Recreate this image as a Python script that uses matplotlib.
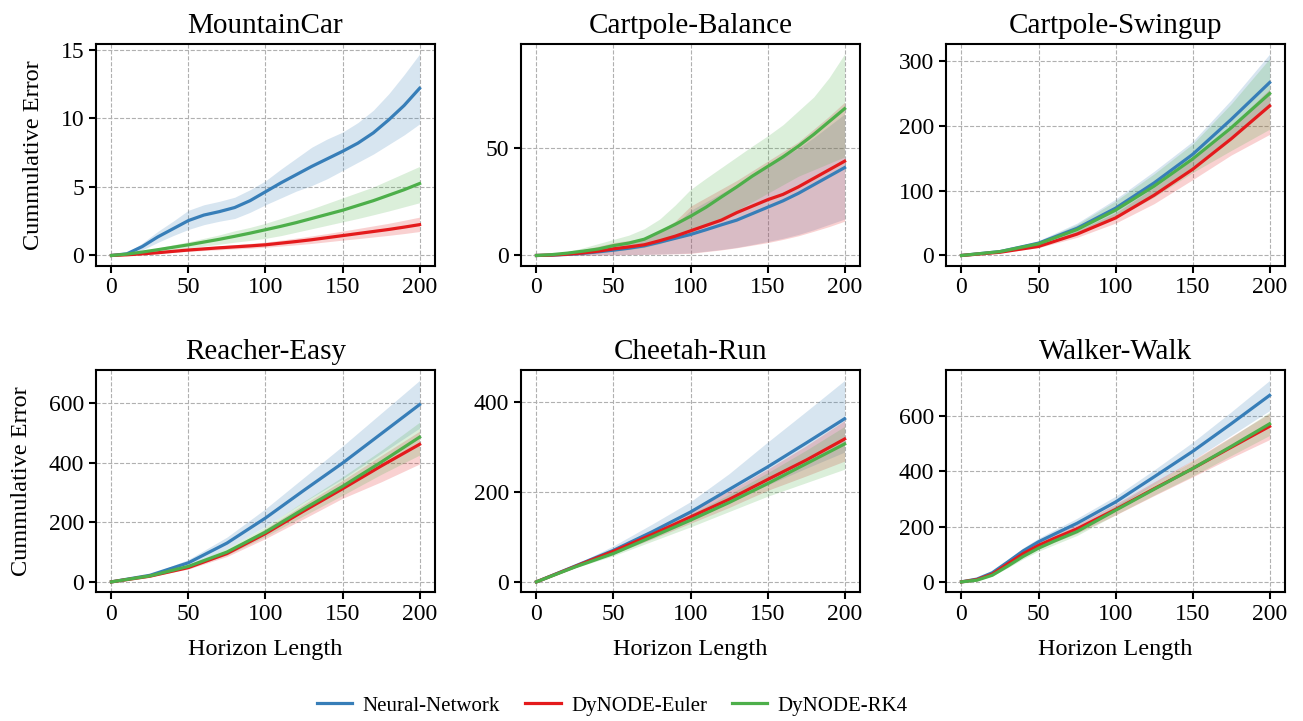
import numpy as np
import matplotlib
matplotlib.use('Agg')
import matplotlib.pyplot as plt
from matplotlib.ticker import MultipleLocator

plt.rcParams['font.family'] = ['Liberation Serif', 'DejaVu Serif']
plt.rcParams['axes.linewidth'] = 1.5
plt.rcParams['xtick.major.width'] = 1.5
plt.rcParams['ytick.major.width'] = 1.5
plt.rcParams['xtick.major.size'] = 5
plt.rcParams['ytick.major.size'] = 5

C_NN = '#377eb8'
C_EU = '#e41a1c'
C_RK = '#4daf4a'

methods = ['Neural-Network', 'DyNODE-Euler', 'DyNODE-RK4']

# ---- MountainCar
mc_x = [0, 10, 20, 30, 40, 50, 60, 70, 80, 90, 100, 110, 120, 130, 140, 150, 160, 170, 180, 190, 200]
mc_nn = [0, 0.12, 0.65, 1.35, 1.95, 2.55, 2.95, 3.2, 3.5, 4.0, 4.65, 5.3, 5.9, 6.5, 7.05, 7.6, 8.2, 8.95, 9.9, 10.95, 12.2]
mc_nn_lo = [0, 0.05, 0.4, 0.95, 1.45, 1.9, 2.25, 2.5, 2.7, 3.15, 3.7, 4.2, 4.7, 5.1, 5.6, 6.2, 6.8, 7.4, 8.1, 8.8, 9.6]
mc_nn_hi = [0, 0.2, 0.9, 1.75, 2.5, 3.3, 3.7, 3.95, 4.25, 4.8, 5.45, 6.3, 7.1, 7.9, 8.5, 9.0, 9.7, 10.6, 11.8, 13.2, 14.7]
mc_eu = [0, 0.05, 0.12, 0.2, 0.3, 0.4, 0.48, 0.56, 0.63, 0.7, 0.78, 0.9, 1.02, 1.15, 1.3, 1.45, 1.6, 1.75, 1.9, 2.07, 2.25]
mc_eu_lo = [0, 0.04, 0.09, 0.15, 0.23, 0.3, 0.36, 0.42, 0.48, 0.53, 0.6, 0.69, 0.78, 0.88, 1.0, 1.12, 1.23, 1.35, 1.47, 1.6, 1.75]
mc_eu_hi = [0, 0.06, 0.15, 0.25, 0.37, 0.5, 0.6, 0.7, 0.79, 0.88, 0.98, 1.12, 1.27, 1.43, 1.6, 1.78, 1.97, 2.16, 2.35, 2.57, 2.8]
mc_rk = [0, 0.1, 0.25, 0.42, 0.6, 0.78, 0.98, 1.18, 1.4, 1.63, 1.88, 2.13, 2.4, 2.7, 3.0, 3.3, 3.65, 4.0, 4.4, 4.8, 5.25]
mc_rk_lo = [0, 0.08, 0.18, 0.3, 0.42, 0.55, 0.68, 0.82, 0.97, 1.1, 1.25, 1.45, 1.7, 1.95, 2.2, 2.45, 2.7, 2.97, 3.25, 3.55, 3.85]
mc_rk_hi = [0, 0.12, 0.32, 0.55, 0.78, 1.0, 1.25, 1.5, 1.8, 2.05, 2.35, 2.7, 3.05, 3.4, 3.8, 4.2, 4.6, 5.0, 5.5, 6.0, 6.5]

# ---- Cartpole-Balance
cb_x = [0, 10, 20, 30, 40, 50, 60, 70, 80, 90, 100, 110, 120, 130, 140, 150, 160, 170, 180, 190, 200]
cb_nn = [0, 0.15, 0.5, 1.0, 1.7, 2.5, 3.4, 4.5, 6.2, 8.0, 9.8, 12.0, 14.3, 16.5, 19.5, 22.5, 25.5, 29.0, 33.0, 37.0, 41]
cb_nn_lo = [0, 0.0, 0.05, 0.1, 0.2, 0.3, 0.4, 0.5, 0.7, 0.9, 1.2, 2.0, 2.8, 3.8, 5.1, 6.5, 8.0, 9.8, 12, 14.5, 17]
cb_nn_hi = [0, 0.4, 1.3, 2.5, 4.0, 5.5, 6.5, 7.5, 10.5, 14.5, 21, 25, 29, 33, 37.5, 42, 46, 50, 55, 60.5, 66]
cb_eu = [0, 0.2, 0.6, 1.2, 2.0, 3.1, 4.0, 5.0, 6.9, 9.0, 11.5, 14.0, 16.5, 20.0, 23.0, 26.0, 28.5, 32.0, 36.0, 40.0, 44.0]
cb_eu_lo = [0, 0.0, 0.05, 0.1, 0.2, 0.3, 0.4, 0.5, 0.6, 0.8, 1.0, 1.8, 2.6, 3.6, 4.8, 6.0, 7.5, 9.2, 11.3, 13.5, 16]
cb_eu_hi = [0, 0.5, 1.5, 2.8, 4.3, 6.0, 7.0, 8.0, 11.5, 16, 23, 27, 31, 35, 39.5, 44, 48.5, 53, 59, 65, 71.5]
cb_rk = [0, 0.4, 1.1, 2.0, 3.0, 4.6, 5.8, 7.6, 11, 14.5, 18.3, 22.5, 27.3, 32.0, 37.0, 41.5, 46.0, 51.0, 56.5, 62.5, 68.5]
cb_rk_lo = [0, 0.2, 0.5, 0.9, 1.5, 2.0, 2.8, 3.8, 5.5, 8, 10.5, 14, 17.5, 21, 25, 29, 33, 37, 40, 43, 46]
cb_rk_hi = [0, 0.6, 1.8, 3.5, 5.5, 7.5, 9.5, 12.5, 17, 23.5, 30.8, 36, 41, 46, 51, 55.8, 61, 67.5, 74, 83, 94]

# ---- Cartpole-Swingup
cs_x = [0, 25, 50, 75, 100, 125, 150, 175, 200]
cs_nn = [0, 6, 19, 42, 73, 112, 156, 210, 267]
cs_nn_lo = [0, 5, 16, 35, 62, 96, 137, 184, 232]
cs_nn_hi = [0, 7, 23, 50, 87, 130, 176, 240, 311]
cs_eu = [0, 5, 14, 33, 58, 93, 133, 180, 231]
cs_eu_lo = [0, 4, 12, 28, 50, 80, 117, 155, 187]
cs_eu_hi = [0, 6, 16, 38, 66, 105, 148, 200, 257]
cs_rk = [0, 6, 18, 40, 70, 107, 149, 197, 250]
cs_rk_lo = [0, 5, 15, 33, 58, 90, 128, 162, 195]
cs_rk_hi = [0, 7, 22, 48, 84, 126, 172, 234, 304]

# ---- Reacher-Easy
re_x = [0, 25, 50, 75, 100, 125, 150, 175, 200]
re_nn = [0, 22, 64, 130, 214, 307, 398, 496, 594]
re_nn_lo = [0, 19, 55, 112, 186, 268, 345, 430, 515]
re_nn_hi = [0, 25, 75, 150, 245, 350, 455, 565, 675]
re_eu = [0, 19, 48, 95, 162, 238, 312, 388, 461]
re_eu_lo = [0, 17, 43, 85, 145, 212, 280, 335, 395]
re_eu_hi = [0, 21, 53, 105, 178, 260, 340, 423, 505]
re_rk = [0, 20, 52, 100, 167, 245, 320, 401, 485]
re_rk_lo = [0, 18, 47, 90, 152, 222, 290, 360, 425]
re_rk_hi = [0, 22, 58, 112, 185, 270, 352, 440, 535]

# ---- Cheetah-Run
cr_x = [0, 25, 50, 75, 100, 125, 150, 175, 200]
cr_nn = [0, 35, 70, 111, 155, 205, 255, 308, 362]
cr_nn_lo = [0, 32, 62, 97, 135, 175, 215, 252, 288]
cr_nn_hi = [0, 38, 80, 128, 178, 240, 310, 378, 447]
cr_eu = [0, 34, 68, 105, 144, 183, 227, 270, 317]
cr_eu_lo = [0, 32, 62, 95, 130, 165, 203, 235, 268]
cr_eu_hi = [0, 36, 74, 115, 158, 202, 250, 302, 358]
cr_rk = [0, 33, 63, 100, 137, 176, 218, 262, 306]
cr_rk_lo = [0, 31, 58, 90, 122, 156, 190, 220, 250]
cr_rk_hi = [0, 35, 68, 110, 150, 194, 242, 292, 345]

# ---- Walker-Walk
ww_x = [0, 10, 20, 30, 40, 50, 60, 75, 100, 125, 150, 175, 200]
ww_nn = [0, 10, 33, 72, 112, 145, 172, 212, 289, 380, 472, 572, 675]
ww_nn_lo = [0, 9, 29, 65, 101, 132, 157, 194, 268, 355, 440, 530, 620]
ww_nn_hi = [0, 11, 37, 79, 123, 158, 187, 230, 310, 405, 505, 615, 729]
ww_eu = [0, 8, 28, 65, 102, 132, 157, 192, 262, 337, 410, 487, 563]
ww_eu_lo = [0, 7, 25, 59, 93, 120, 143, 176, 242, 312, 380, 449, 515]
ww_eu_hi = [0, 9, 31, 71, 111, 144, 171, 208, 282, 362, 440, 525, 610]
ww_rk = [0, 6, 24, 57, 92, 122, 147, 182, 259, 335, 410, 490, 572]
ww_rk_lo = [0, 5, 21, 51, 83, 111, 134, 168, 243, 314, 383, 457, 530]
ww_rk_hi = [0, 7, 27, 63, 101, 133, 160, 196, 275, 356, 437, 523, 614]

panels = [
    ('MountainCar', mc_x, [(mc_nn, mc_nn_lo, mc_nn_hi), (mc_eu, mc_eu_lo, mc_eu_hi), (mc_rk, mc_rk_lo, mc_rk_hi)], 5),
    ('Cartpole-Balance', cb_x, [(cb_nn, cb_nn_lo, cb_nn_hi), (cb_eu, cb_eu_lo, cb_eu_hi), (cb_rk, cb_rk_lo, cb_rk_hi)], 50),
    ('Cartpole-Swingup', cs_x, [(cs_nn, cs_nn_lo, cs_nn_hi), (cs_eu, cs_eu_lo, cs_eu_hi), (cs_rk, cs_rk_lo, cs_rk_hi)], 100),
    ('Reacher-Easy', re_x, [(re_nn, re_nn_lo, re_nn_hi), (re_eu, re_eu_lo, re_eu_hi), (re_rk, re_rk_lo, re_rk_hi)], 200),
    ('Cheetah-Run', cr_x, [(cr_nn, cr_nn_lo, cr_nn_hi), (cr_eu, cr_eu_lo, cr_eu_hi), (cr_rk, cr_rk_lo, cr_rk_hi)], 200),
    ('Walker-Walk', ww_x, [(ww_nn, ww_nn_lo, ww_nn_hi), (ww_eu, ww_eu_lo, ww_eu_hi), (ww_rk, ww_rk_lo, ww_rk_hi)], 200),
]
colors = [C_NN, C_EU, C_RK]

fig, axes = plt.subplots(2, 3, figsize=(13.03, 7.21), dpi=100)
plt.subplots_adjust(left=0.0737, right=0.9862, top=0.939, bottom=0.179, wspace=0.254, hspace=0.473)

handles = []
for i, (ax, (title, x, series, step)) in enumerate(zip(axes.flat, panels)):
    ax.grid(True, linestyle='--', color='#b0b0b0', linewidth=0.8)
    ax.set_axisbelow(True)
    for (m, lo, hi), c, name in zip(series, colors, methods):
        ax.fill_between(x, lo, hi, color=c, alpha=0.2, linewidth=0)
        h, = ax.plot(x, m, color=c, linewidth=2.3, label=name)
        if i == 0:
            handles.append(h)
    ax.set_title(title, fontsize=21, pad=8)
    ax.set_xticks([0, 50, 100, 150, 200])
    ax.yaxis.set_major_locator(MultipleLocator(step))
    ax.tick_params(labelsize=17)
    if i % 3 == 0:
        ax.set_ylabel('Cummulative Error', fontsize=17.5, labelpad=12)
    if i >= 3:
        ax.set_xlabel('Horizon Length', fontsize=17.5, labelpad=10)

fig.legend(handles=handles, loc='center', bbox_to_anchor=(0.47, 0.021), ncol=3,
           frameon=False, fontsize=15, handlelength=1.7, handletextpad=0.5, columnspacing=1.2)

fig.savefig('out.png', dpi=100)
